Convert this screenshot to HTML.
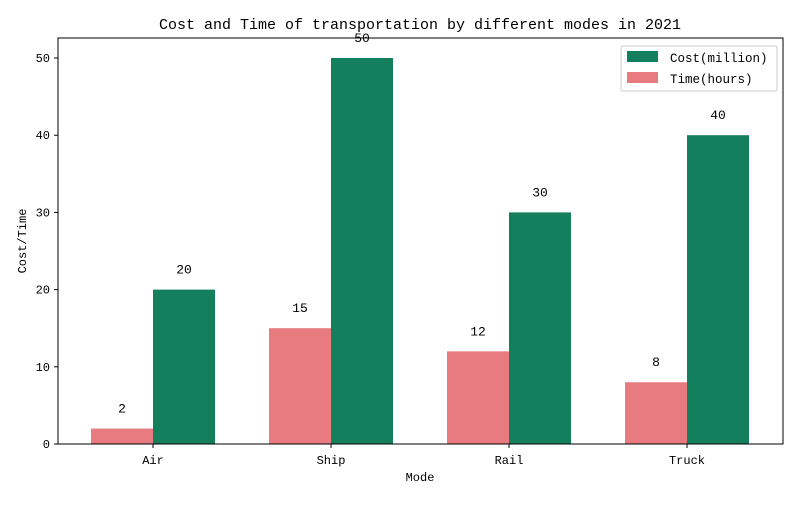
<!DOCTYPE html>
<html><head><meta charset="utf-8"><style>
body{margin:0;background:#fff}
svg text{font-family:"WenQuanYi Zen Hei","Liberation Mono",monospace;fill:#000}
</style></head><body>
<svg id="chart" width="800" height="500">
<text x="420" y="29" font-size="15" text-anchor="middle">Cost and Time of transportation by different modes in 2021</text>
<g id="marks"></g>
<rect x="58" y="38" width="725" height="406" fill="none" stroke="#000" stroke-width="1"/>
<text x="420" y="481" font-size="12" text-anchor="middle">Mode</text>
<text x="0" y="0" font-size="12" text-anchor="middle" transform="translate(26,241) rotate(-90)">Cost/Time</text>
<g>
<rect x="621" y="46" width="156" height="45" fill="#fff" stroke="#ccc" rx="2"/>
<rect x="627" y="51" width="31" height="11" fill="#147f5c"/>
<text x="670" y="62" font-size="12.5">Cost(million)</text>
<rect x="627" y="72" width="31" height="11" fill="#e87b80"/>
<text x="670" y="83" font-size="12.5">Time(hours)</text>
</g>
</svg>
<script>
const categories=["Air","Ship","Rail","Truck"];
const costValues=[20,50,30,40];
const timeValues=[2,15,12,8];
const yTicks=[0,10,20,30,40,50];
const NS="http://www.w3.org/2000/svg";
const g=document.getElementById('marks');
const x0=58,y0=444,yScale=386/50;
const step=178,firstC=153,barW=62;
function xC(i){return firstC+step*i;}
function yS(v){return y0-v*yScale;}
function mk(t,a){const e=document.createElementNS(NS,t);for(const k in a)e.setAttribute(k,a[k]);g.appendChild(e);return e;}
yTicks.forEach(v=>{
 const l=mk('line',{x1:x0-4,x2:x0,y1:yS(v),y2:yS(v),stroke:'#000'});
 
 
 const t=mk('text',{x:x0-8,y:yS(v)+4,'font-size':12,'text-anchor':'end'});t.textContent=v;
 
 
});
categories.forEach((c,i)=>{
 const cx=xC(i);
 const tb=mk('rect',{x:cx-barW,y:yS(timeValues[i]),width:barW,height:timeValues[i]*yScale,fill:'#e87b80'});
 
 
 const cb=mk('rect',{x:cx,y:yS(costValues[i]),width:barW,height:costValues[i]*yScale,fill:'#147f5c'});
 
 
 const tl=mk('text',{x:cx-barW/2,y:yS(timeValues[i])-16,'font-size':13,'text-anchor':'middle'});tl.textContent=timeValues[i];
 
 
 const cl=mk('text',{x:cx+barW/2,y:yS(costValues[i])-16,'font-size':13,'text-anchor':'middle'});cl.textContent=costValues[i];
 
 
 const tk=mk('line',{x1:cx,x2:cx,y1:y0,y2:y0+4,stroke:'#000'});
 
 
 const xl=mk('text',{x:cx,y:y0+20,'font-size':12,'text-anchor':'middle'});xl.textContent=c;
 
 
});
</script>
</body></html>
